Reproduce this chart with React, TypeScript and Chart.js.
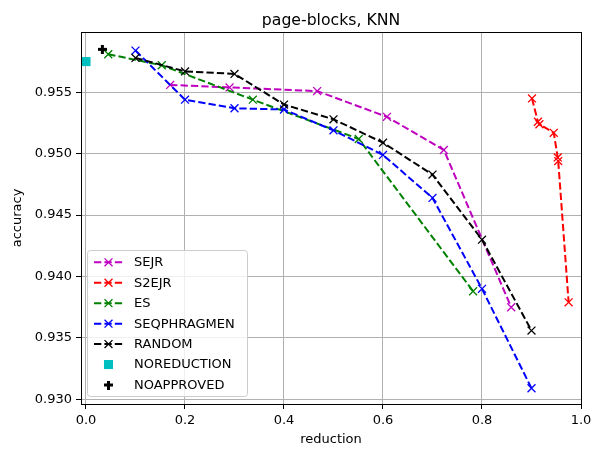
import React, { useEffect, useRef } from "react";
import { Chart, registerables } from "chart.js";

Chart.register(...registerables);

// ---- data ----
const xTicks = [0.0, 0.2, 0.4, 0.6, 0.8, 1.0];
const yTicks = [0.93, 0.935, 0.94, 0.945, 0.95, 0.955];

const sejrX = [0.17, 0.29, 0.467, 0.608, 0.723, 0.859];
const sejrY = [0.9556, 0.9554, 0.9551, 0.953, 0.9503, 0.9375];

const s2ejrX = [0.901, 0.913, 0.916, 0.945, 0.953, 0.954, 0.975];
const s2ejrY = [0.9545, 0.9526, 0.9524, 0.9517, 0.9497, 0.9494, 0.9379];

const esX = [0.045, 0.153, 0.337, 0.551, 0.782];
const esY = [0.9581, 0.9572, 0.9544, 0.9512, 0.9388];

const seqX = [0.1, 0.2, 0.3, 0.4, 0.5, 0.6, 0.7, 0.8, 0.9];
const seqY = [0.9584, 0.9544, 0.9537, 0.9536, 0.9519, 0.9499, 0.9464, 0.939, 0.9309];

const randX = [0.1, 0.2, 0.3, 0.4, 0.5, 0.6, 0.7, 0.8, 0.9];
const randY = [0.9578, 0.9567, 0.9565, 0.954, 0.9528, 0.9509, 0.9483, 0.943, 0.9356];

const noRedX = [0.0];
const noRedY = [0.9575];

const noAppX = [0.033];
const noAppY = [0.9585];

const FONT = "DejaVu Sans";

function makePlus(size: number, color: string): HTMLCanvasElement {
  const c = document.createElement("canvas");
  c.width = size;
  c.height = size;
  const g = c.getContext("2d")!;
  g.fillStyle = color;
  const t = size / 3;
  g.fillRect(t, 0, t, size);
  g.fillRect(0, t, size, t);
  return c;
}

const DASH = [7.3, 3.1];

function lineSeries(label: string, xs: number[], ys: number[], color: string) {
  return {
    label,
    data: xs.map((x, i) => ({ x, y: ys[i] })),
    borderColor: color,
    backgroundColor: color,
    borderWidth: 2,
    borderDash: DASH,
    showLine: true,
    tension: 0,
    fill: false,
    pointStyle: "crossRot",
    pointRadius: 5.6,
    pointHoverRadius: 5.6,
    pointBorderWidth: 1.3,
    pointBorderColor: color,
    pointBackgroundColor: color,
  };
}

const titlePlugin = {
  id: "mplTitle",
  afterDraw(chart: any) {
    const { ctx, chartArea } = chart;
    ctx.save();
    ctx.font = `15.7px "${FONT}"`;
    ctx.fillStyle = "#000";
    ctx.textAlign = "center";
    ctx.textBaseline = "alphabetic";
    ctx.fillText("page-blocks, KNN", (chartArea.left + chartArea.right) / 2, 24.5);
    ctx.restore();
  },
};

const framePlugin = {
  id: "mplFrame",
  afterDatasetsDraw(chart: any) {
    const { ctx, chartArea } = chart;
    ctx.save();
    ctx.strokeStyle = "#000";
    ctx.lineWidth = 1;
    ctx.setLineDash([]);
    const l = Math.round(chartArea.left) + 0.5;
    const t = Math.round(chartArea.top) + 0.5;
    const r = Math.round(chartArea.right) + 0.5;
    const b = Math.round(chartArea.bottom) + 0.5;
    ctx.strokeRect(l, t, r - l, b - t);
    ctx.restore();
  },
};

function drawMarker(ctx: CanvasRenderingContext2D, ds: any, x: number, y: number) {
  const ps = ds.pointStyle;
  if (ps === "crossRot") {
    const r = ds.pointRadius * Math.SQRT1_2;
    ctx.strokeStyle = ds.pointBorderColor;
    ctx.lineWidth = ds.pointBorderWidth;
    ctx.setLineDash([]);
    ctx.beginPath();
    ctx.moveTo(x - r, y - r);
    ctx.lineTo(x + r, y + r);
    ctx.moveTo(x - r, y + r);
    ctx.lineTo(x + r, y - r);
    ctx.stroke();
  } else if (ps === "rect") {
    const s = ds.pointRadius * Math.SQRT1_2;
    ctx.fillStyle = ds.pointBackgroundColor;
    ctx.fillRect(x - s, y - s, 2 * s, 2 * s);
  } else if (ps instanceof HTMLCanvasElement) {
    ctx.drawImage(ps, x - ps.width / 2, y - ps.height / 2);
  }
}

const legendPlugin = {
  id: "mplLegend",
  afterDraw(chart: any) {
    const ctx: CanvasRenderingContext2D = chart.ctx;
    const x0 = 87.5, y0 = 250.5, w = 160, h = 146, rad = 3;
    ctx.save();
    ctx.beginPath();
    ctx.moveTo(x0 + rad, y0);
    ctx.lineTo(x0 + w - rad, y0);
    ctx.arcTo(x0 + w, y0, x0 + w, y0 + rad, rad);
    ctx.lineTo(x0 + w, y0 + h - rad);
    ctx.arcTo(x0 + w, y0 + h, x0 + w - rad, y0 + h, rad);
    ctx.lineTo(x0 + rad, y0 + h);
    ctx.arcTo(x0, y0 + h, x0, y0 + h - rad, rad);
    ctx.lineTo(x0, y0 + rad);
    ctx.arcTo(x0, y0, x0 + rad, y0, rad);
    ctx.closePath();
    ctx.fillStyle = "rgba(255,255,255,0.8)";
    ctx.fill();
    ctx.strokeStyle = "#cccccc";
    ctx.lineWidth = 1;
    ctx.stroke();

    const datasets = chart.data.datasets;
    datasets.forEach((ds: any, i: number) => {
      const cy = 262.3 + i * 20.45;
      const lx0 = 94, lx1 = 123;
      if (ds.showLine) {
        ctx.strokeStyle = ds.borderColor;
        ctx.lineWidth = ds.borderWidth;
        ctx.setLineDash(ds.borderDash);
        ctx.beginPath();
        ctx.moveTo(lx0, cy);
        ctx.lineTo(lx1, cy);
        ctx.stroke();
        ctx.setLineDash([]);
      }
      drawMarker(ctx, ds, (lx0 + lx1) / 2, cy);
      ctx.fillStyle = "#000";
      ctx.font = `13px "${FONT}"`;
      ctx.textAlign = "left";
      ctx.textBaseline = "middle";
      ctx.fillText(ds.label, 134, cy + 0.5);
    });
    ctx.restore();
  },
};

export default function App() {
  const ref = useRef<HTMLCanvasElement>(null);

  useEffect(() => {
    const datasets: any[] = [
      lineSeries("SEJR", sejrX, sejrY, "#bf00bf"),
      lineSeries("S2EJR", s2ejrX, s2ejrY, "#ff0000"),
      lineSeries("ES", esX, esY, "#008000"),
      lineSeries("SEQPHRAGMEN", seqX, seqY, "#0000ff"),
      lineSeries("RANDOM", randX, randY, "#000000"),
      {
        label: "NOREDUCTION",
        data: noRedX.map((x, i) => ({ x, y: noRedY[i] })),
        showLine: false,
        pointStyle: "rect",
        pointRadius: 6.4,
        pointHoverRadius: 6.4,
        pointBorderWidth: 0,
        pointBackgroundColor: "#00bfbf",
        pointBorderColor: "#00bfbf",
        backgroundColor: "#00bfbf",
        borderColor: "#00bfbf",
      },
      {
        label: "NOAPPROVED",
        data: noAppX.map((x, i) => ({ x, y: noAppY[i] })),
        showLine: false,
        pointStyle: makePlus(9, "#000000"),
        pointRadius: 4.5,
        pointHoverRadius: 4.5,
        pointBorderWidth: 0,
        pointBackgroundColor: "#000000",
        pointBorderColor: "#000000",
        backgroundColor: "#000000",
        borderColor: "#000000",
      },
    ];
    const n = datasets.length;
    datasets.forEach((d, i) => (d.order = n - i));

    const tickFont = { family: FONT, size: 13 };

    const chart = new Chart(ref.current!, {
      type: "scatter",
      data: { datasets },
      options: {
        animation: false,
        responsive: false,
        devicePixelRatio: 1,
        events: [],
        layout: { padding: { top: 32, right: 23, left: 0, bottom: 0 } },
        plugins: {
          legend: { display: false },
          title: { display: false },
          tooltip: { enabled: false },
        },
        scales: {
          x: {
            type: "linear",
            min: -0.0101,
            max: 1.0,
            afterBuildTicks: (s: any) => {
              s.ticks = xTicks.map((v) => ({ value: v }));
            },
            afterFit: (s: any) => {
              s.height = 47;
            },
            ticks: {
              callback: (v: any) => Number(v).toFixed(1),
              font: tickFont,
              color: "#000",
              padding: 4,
              maxRotation: 0,
              autoSkip: false,
            },
            grid: {
              color: "#b0b0b0",
              lineWidth: 1,
              tickLength: 5,
              tickColor: "#000",
              drawTicks: true,
            },
            border: { display: false },
            title: {
              display: true,
              text: "reduction",
              font: { family: FONT, size: 13 },
              color: "#000",
              padding: { top: 0, bottom: 3.2 },
            },
          },
          y: {
            type: "linear",
            min: 0.92962,
            max: 0.95991,
            afterBuildTicks: (s: any) => {
              s.ticks = yTicks.map((v) => ({ value: v }));
            },
            afterFit: (s: any) => {
              s.width = 81;
            },
            ticks: {
              callback: (v: any) => Number(v).toFixed(3),
              font: tickFont,
              color: "#000",
              padding: 4,
              autoSkip: false,
            },
            grid: {
              color: "#b0b0b0",
              lineWidth: 1,
              tickLength: 5,
              tickColor: "#000",
              drawTicks: true,
            },
            border: { display: false },
            title: {
              display: true,
              text: "accuracy",
              font: { family: FONT, size: 13 },
              color: "#000",
              padding: { top: 10, bottom: 0 },
            },
          },
        },
      } as any,
      plugins: [framePlugin, titlePlugin, legendPlugin],
    });
    return () => chart.destroy();
  }, []);

  return (
    <div style={{ position: "absolute", left: 0, top: 0, width: 604, height: 451, background: "#fff" }}>
      <canvas ref={ref} width={604} height={451} style={{ display: "block", width: 604, height: 451 }} />
    </div>
  );
}
